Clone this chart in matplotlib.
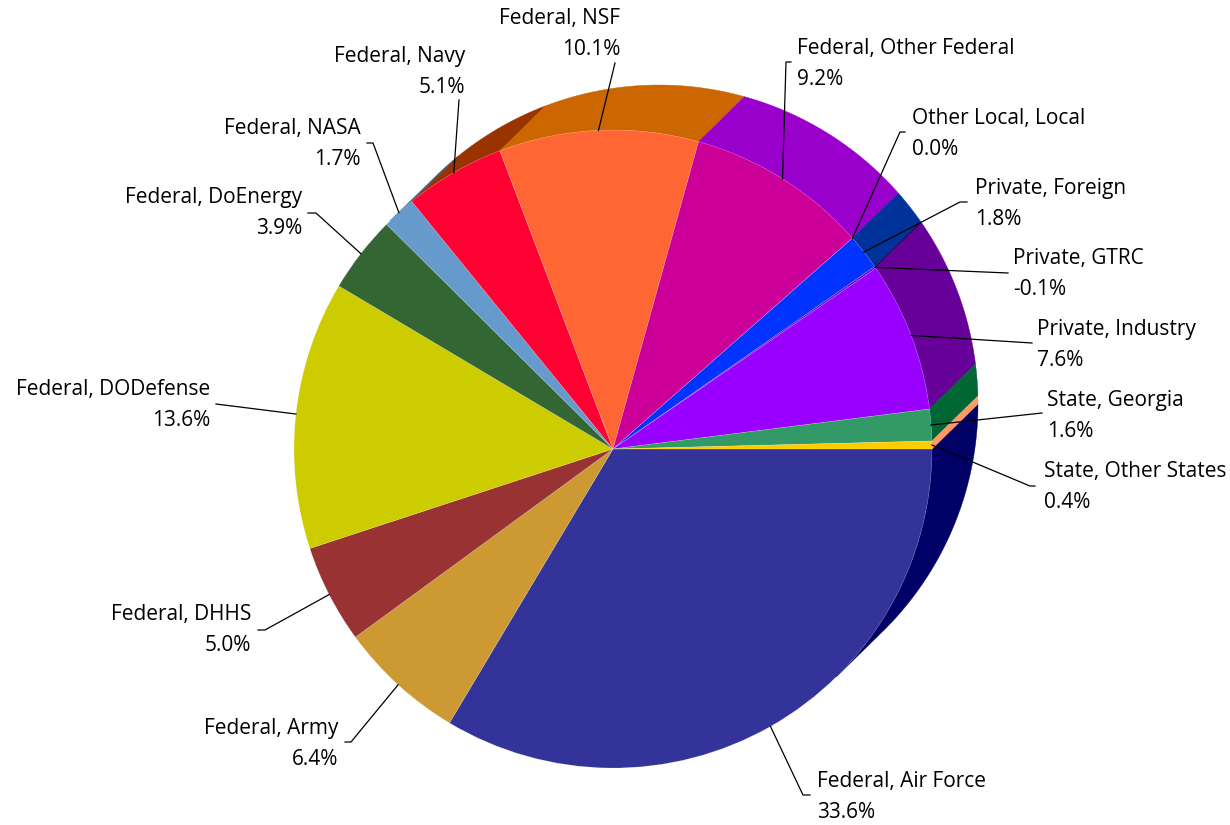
import numpy as np
import matplotlib
matplotlib.use("Agg")
import matplotlib.pyplot as plt
from matplotlib.patches import Polygon

# slices, in drawing order (clockwise from 3 o'clock)
names = ["Federal, Air Force", "Federal, Army", "Federal, DHHS", "Federal, DODefense",
         "Federal, DoEnergy", "Federal, NASA", "Federal, Navy", "Federal, NSF",
         "Federal, Other Federal", "Other Local, Local", "Private, Foreign",
         "Private, GTRC", "Private, Industry", "State, Georgia", "State, Other States"]
values = [33.6, 6.4, 5.0, 13.6, 3.9, 1.7, 5.1, 10.1, 9.2, 0.0, 1.8, -0.1, 7.6, 1.6, 0.4]

face_colors = ["#333399", "#CC9933", "#993333", "#CCCC00", "#336633", "#6699CC", "#FF0033",
               "#FF6633", "#CC0099", "#FFCC99", "#0033FF", "#6600CC", "#9900FF", "#339966",
               "#FFCC00"]
side_colors = ["#000066", "#996633", "#661A1A", "#999900", "#1A331A", "#336699", "#993300",
               "#CC6600", "#9900CC", "#CC9966", "#003399", "#330066", "#660099", "#006633",
               "#FF9966"]

# label layout (pixels): text anchor, alignment, leader start, elbow length
lab_pos = [(817, 797), (338, 744), (251, 630), (210, 405), (302, 213), (361, 144),
           (465, 72), (620, 34), (797, 64), (912, 134), (975, 204), (1013, 274),
           (1037, 345), (1047, 416), (1044, 487)]
lab_ha = ["left", "right", "right", "right", "right", "right", "right", "right",
          "left", "left", "left", "left", "left", "left", "left"]
lead_start = [(810, 795), (345, 742), (258, 630), (216, 404), (308, 213), (367, 143),
              (459, 100), (615, 63), (791, 62), (905, 132), (967, 202), (1008, 273),
              (1032, 343), (1042, 413), (1035, 486)]
elbow = [-7, 6, 7, 0, 8, 6, 0, 0, -5, -5, -7, 0, 0, 0, -5]

cx, cy, R = 613, 449, 319
dx, dy = 46, -45  # depth of the 3D extrusion (up-right)

fig = plt.figure(figsize=(12.3, 8.25), dpi=100)
ax = fig.add_axes([0, 0, 1, 1])

def pt(theta, r, ox=0, oy=0):
    t = np.radians(theta)
    return cx + ox + r * np.cos(t), cy + oy - r * np.sin(t)

fracs = np.abs(values) / np.sum(np.abs(values))
ends = 360 - np.cumsum(fracs) * 360
starts = np.concatenate([[360], ends[:-1]])

# visible part of the side: outward normal facing the extrusion direction
d_ang = np.degrees(np.arctan2(-dy, dx))
vis_lo, vis_hi = d_ang - 90, d_ang + 90

for i in range(len(values)):
    a, b = ends[i], starts[i]
    for k in (-1, 0, 1):
        lo = max(a, vis_lo + 360 * k)
        hi = min(b, vis_hi + 360 * k)
        if hi - lo <= 0.01:
            continue
        th = np.linspace(lo, hi, 80)
        front = [pt(t, R) for t in th]
        back = [pt(t, R, dx, dy) for t in th[::-1]]
        ax.add_patch(Polygon(front + back, closed=True, facecolor=side_colors[i],
                             edgecolor=side_colors[i], lw=0.3, zorder=1))

ax.pie(np.abs(values), colors=face_colors, startangle=0, counterclock=True,
       center=(cx, cy), radius=R, wedgeprops=dict(linewidth=0.4, edgecolor="#ffffff40"))
for w in ax.patches[-len(values):]:
    w.set_zorder(2)

mids = (starts + ends) / 2
for i in range(len(values)):
    tx, ty = pt(mids[i], R)
    sx, sy = lead_start[i]
    ax.plot([sx, sx + elbow[i], tx], [sy, sy, ty], color="black", lw=0.9, zorder=3)
    x, y = lab_pos[i]
    ax.text(x, y, f"{names[i]}\n{values[i]:.1f}%", ha=lab_ha[i], va="center",
            fontsize=15, family="Open Sans", linespacing=1.6, zorder=4)

ax.set_xlim(0, 1230)
ax.set_ylim(825, 0)
ax.set_aspect("equal")
ax.axis("off")

fig.savefig("out.png", dpi=100, facecolor="white")
